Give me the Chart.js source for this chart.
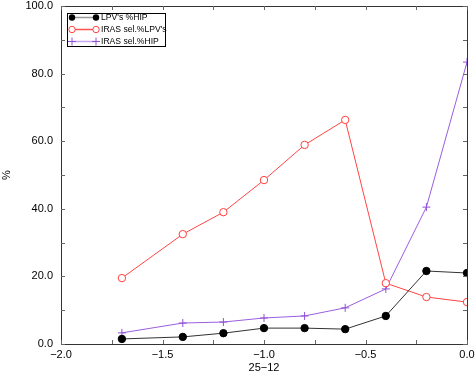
<!DOCTYPE html>
<html><head><meta charset="utf-8">
<script src="https://cdn.jsdelivr.net/npm/chart.js@4/dist/chart.umd.min.js"></script>
<style>html,body{margin:0;padding:0;background:#fff}#w{width:475px;height:375px}</style>
</head><body><div id="w"><canvas id="c"></canvas></div>
<script>
const xValues = [-1.7, -1.4, -1.2, -1.0, -0.8, -0.6, -0.4, -0.2, 0.0];
const lpvHip = [1.5, 2.1, 3.2, 4.7, 4.7, 4.4, 8.3, 21.6, 21.0];
const irasLpv = [19.5, 32.5, 39.0, 48.5, 58.9, 66.3, 18.0, 13.9, 12.4];
const irasHip = [3.3, 6.2, 6.5, 7.7, 8.3, 10.7, 16.3, 40.5, 83.4];
const seriesLabels = ["LPV's %HIP", "IRAS sel.%LPV's", "IRAS sel.%HIP"];
const xTitle = "25\u221212";
const yTitle = "%";

const pts = arr => xValues.map((x, i) => ({x: x, y: arr[i]}));
const FONT = "'Liberation Sans', Arial, sans-serif";

const frame = {
  id: 'frame',
  afterDraw(chart) {
    const ctx = chart.ctx, a = chart.chartArea;
    const xs = chart.scales.x, ys = chart.scales.y;
    ctx.save();
    ctx.strokeStyle = '#333';
    ctx.lineWidth = 1;
    ctx.beginPath();
    ctx.rect(Math.round(a.left) + 0.5, Math.round(a.top) + 0.5, Math.round(a.right - a.left), Math.round(a.bottom - a.top));
    ctx.stroke();
    ctx.strokeStyle = '#666';
    ctx.beginPath();
    for (let v = -2; v <= 0.0001; v += 0.25) {
      const px = Math.round(xs.getPixelForValue(v)) + 0.5;
      const L = 4;
      ctx.moveTo(px, a.bottom); ctx.lineTo(px, a.bottom - L);
      ctx.moveTo(px, a.top); ctx.lineTo(px, a.top + L);
    }
    for (let v = 0; v <= 100; v += 10) {
      const py = Math.round(ys.getPixelForValue(v)) + 0.5;
      const L = 4;
      ctx.moveTo(a.left, py); ctx.lineTo(a.left + L, py);
      ctx.moveTo(a.right, py); ctx.lineTo(a.right - L, py);
    }
    ctx.stroke();

    // legend
    const bx = 67.5, by = 13.5, bw = 98, bh = 33;
    ctx.fillStyle = '#fff';
    ctx.fillRect(bx, by, bw, bh);
    ctx.strokeStyle = '#000';
    ctx.strokeRect(bx, by, bw, bh);
    const rows = [17, 29, 41];
    const lineCols = ['#999', '#ff5050', '#c8a8f0'];
    ctx.font = '8.6px ' + FONT;
    ctx.textBaseline = 'middle';
    chart.data.datasets.forEach((ds, i) => {
      const y = rows[i] + 0.5;
      ctx.strokeStyle = lineCols[i];
      ctx.lineWidth = 1.5;
      ctx.beginPath(); ctx.moveTo(72, y); ctx.lineTo(96, y); ctx.stroke();
      ctx.lineWidth = 1;
      [72, 96].forEach(mx => {
        if (i === 0) {
          ctx.fillStyle = '#000';
          ctx.beginPath(); ctx.arc(mx, y, 3.2, 0, Math.PI * 2); ctx.fill();
        } else if (i === 1) {
          ctx.fillStyle = '#fff'; ctx.strokeStyle = '#ff4040';
          ctx.beginPath(); ctx.arc(mx, y, 3.2, 0, Math.PI * 2); ctx.fill(); ctx.stroke();
        } else {
          ctx.strokeStyle = '#9050d8';
          ctx.beginPath(); ctx.moveTo(mx - 4, y); ctx.lineTo(mx + 4, y);
          ctx.moveTo(mx, y - 4); ctx.lineTo(mx, y + 4); ctx.stroke();
        }
      });
      ctx.fillStyle = '#000';
      ctx.fillText(ds.label, 101, y);
    });
    ctx.restore();
  }
};

new Chart(document.getElementById('c'), {
  type: 'scatter',
  data: {
    datasets: [
      {label: seriesLabels[0], data: pts(lpvHip), showLine: true, borderColor: '#333', borderWidth: 1,
       pointStyle: 'circle', pointRadius: 3.7, pointBackgroundColor: '#000', pointBorderColor: '#000'},
      {label: seriesLabels[1], data: pts(irasLpv), showLine: true, borderColor: '#ff4545', borderWidth: 1,
       pointStyle: 'circle', pointRadius: 3.7, pointBackgroundColor: '#fff', pointBorderColor: '#ff4040', pointBorderWidth: 1},
      {label: seriesLabels[2], data: pts(irasHip), showLine: true, borderColor: '#9a5ee0', borderWidth: 1,
       pointStyle: 'cross', pointRadius: 4, pointBorderColor: '#9050d8', pointBorderWidth: 1}
    ]
  },
  options: {
    responsive: true, maintainAspectRatio: false, animation: false,
    layout: {padding: {top: 6, right: 8, left: 0, bottom: 0}},
    plugins: {legend: {display: false}, tooltip: {enabled: false}},
    elements: {line: {tension: 0}},
    scales: {
      x: {type: 'linear', min: -2, max: 0,
        grid: {display: false, drawTicks: false}, border: {display: false},
        title: {display: true, text: xTitle, color: '#000', font: {family: FONT, size: 11}, padding: {top: 2, bottom: 0}},
        afterFit: s => { s.height = 31; s.paddingLeft = 0; s.paddingRight = 0; },
        ticks: {stepSize: 0.5, color: '#000', font: {family: FONT, size: 11}, padding: 4, maxRotation: 0,
          callback: v => (v < 0 ? '\u2212' : '') + Math.abs(v).toFixed(1)}},
      y: {min: 0, max: 100,
        grid: {display: false, drawTicks: false}, border: {display: false},
        title: {display: true, text: yTitle, color: '#000', font: {family: FONT, size: 11}, padding: 0},
        afterFit: s => { s.width = 61; s.paddingTop = 0; s.paddingBottom = 0; },
        ticks: {stepSize: 20, color: '#000', font: {family: FONT, size: 11}, padding: 8,
          callback: v => v.toFixed(1)}}
    }
  },
  plugins: [frame]
});
</script></body></html>
